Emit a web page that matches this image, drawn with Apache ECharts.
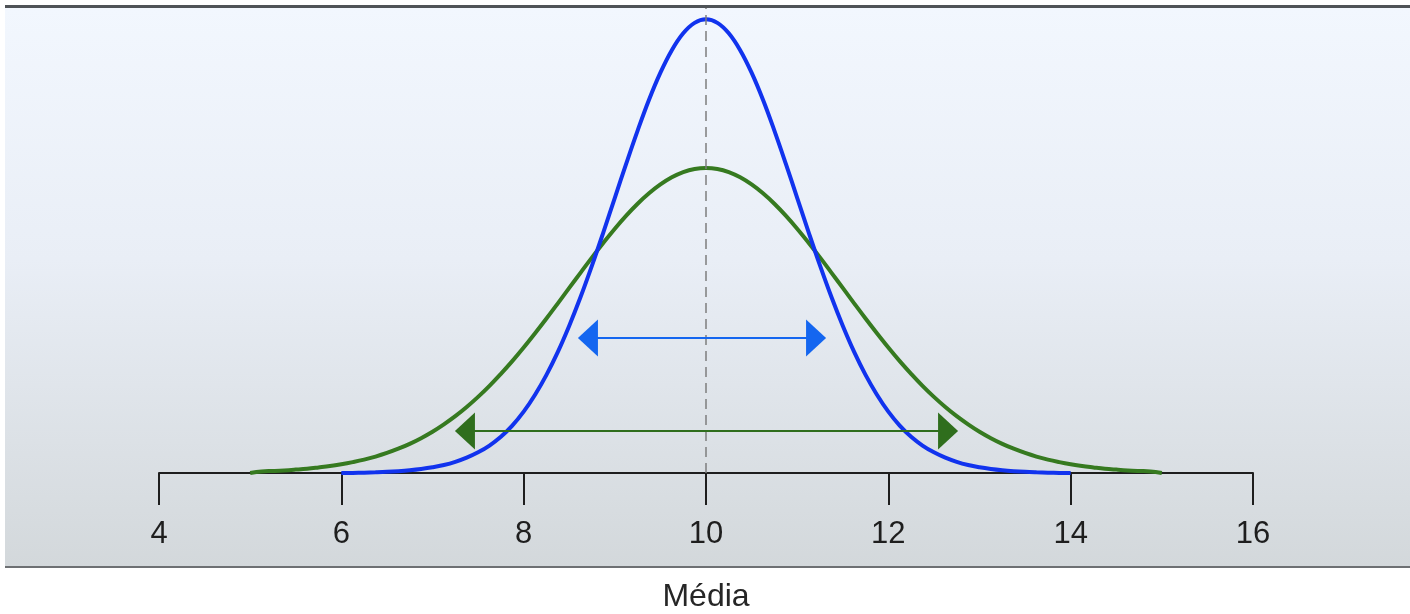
<!DOCTYPE html>
<html>
<head>
<meta charset="utf-8">
<script src="https://cdn.jsdelivr.net/npm/echarts@6/dist/echarts.min.js"></script>
<style>
html,body{margin:0;padding:0;background:#ffffff;}
#chart{width:1410px;height:614px;}
</style>
</head>
<body>
<div id="chart"></div>
<script>
// x-axis ticks
const xTicks = [4, 6, 8, 10, 12, 14, 16];
const axisTitle = 'Média';

// Narrow (blue) curve
const blueX = [6, 6.125, 6.25, 6.375, 6.5, 6.625, 6.75, 6.875, 7, 7.125, 7.25, 7.375, 7.5, 7.625, 7.75, 7.875,
               8, 8.125, 8.25, 8.375, 8.5, 8.625, 8.75, 8.875, 9, 9.125, 9.25, 9.375, 9.5, 9.625, 9.75, 9.875,
               10, 10.125, 10.25, 10.375, 10.5, 10.625, 10.75, 10.875, 11, 11.125, 11.25, 11.375, 11.5, 11.625, 11.75, 11.875,
               12, 12.125, 12.25, 12.375, 12.5, 12.625, 12.75, 12.875, 13, 13.125, 13.25, 13.375, 13.5, 13.625, 13.75, 13.875, 14];
const blueY = [0, 0.0001, 0.0003, 0.0006, 0.0010, 0.0016, 0.0024, 0.0035, 0.0050, 0.0070, 0.0098, 0.0135, 0.0182, 0.0242, 0.0319, 0.0418,
               0.0541, 0.0690, 0.0865, 0.1068, 0.1299, 0.1554, 0.1831, 0.2124, 0.2426, 0.2728, 0.3019, 0.3291, 0.3530, 0.3728, 0.3877, 0.3969,
               0.4000, 0.3969, 0.3877, 0.3728, 0.3530, 0.3291, 0.3019, 0.2728, 0.2426, 0.2124, 0.1831, 0.1554, 0.1299, 0.1068, 0.0865, 0.0690,
               0.0541, 0.0418, 0.0319, 0.0242, 0.0182, 0.0135, 0.0098, 0.0070, 0.0050, 0.0035, 0.0024, 0.0016, 0.0010, 0.0006, 0.0003, 0.0001, 0];

// Wide (green) curve
const greenX = [5, 5.125, 5.25, 5.375, 5.5, 5.625, 5.75, 5.875, 6, 6.125, 6.25, 6.375, 6.5, 6.625, 6.75, 6.875,
                7, 7.125, 7.25, 7.375, 7.5, 7.625, 7.75, 7.875, 8, 8.125, 8.25, 8.375, 8.5, 8.625, 8.75, 8.875,
                9, 9.125, 9.25, 9.375, 9.5, 9.625, 9.75, 9.875, 10, 10.125, 10.25, 10.375, 10.5, 10.625, 10.75, 10.875,
                11, 11.125, 11.25, 11.375, 11.5, 11.625, 11.75, 11.875, 12, 12.125, 12.25, 12.375, 12.5, 12.625, 12.75, 12.875,
                13, 13.125, 13.25, 13.375, 13.5, 13.625, 13.75, 13.875, 14, 14.125, 14.25, 14.375, 14.5, 14.625, 14.75, 14.875, 15];
const greenY = [0, 0.0014, 0.0018, 0.0023, 0.0030, 0.0038, 0.0049, 0.0061, 0.0077, 0.0096, 0.0118, 0.0145, 0.0177, 0.0214, 0.0257, 0.0307,
                0.0364, 0.0429, 0.0501, 0.0582, 0.0671, 0.0768, 0.0874, 0.0986, 0.1106, 0.1232, 0.1362, 0.1496, 0.1632, 0.1767, 0.1901, 0.2030,
                0.2154, 0.2269, 0.2374, 0.2466, 0.2544, 0.2607, 0.2653, 0.2681, 0.2690, 0.2681, 0.2653, 0.2607, 0.2544, 0.2466, 0.2374, 0.2269,
                0.2154, 0.2030, 0.1901, 0.1767, 0.1632, 0.1496, 0.1362, 0.1232, 0.1106, 0.0986, 0.0874, 0.0768, 0.0671, 0.0582, 0.0501, 0.0429,
                0.0364, 0.0307, 0.0257, 0.0214, 0.0177, 0.0145, 0.0118, 0.0096, 0.0077, 0.0061, 0.0049, 0.0038, 0.0030, 0.0023, 0.0018, 0.0014, 0];

// Double-headed arrows: [from, to, height]
const blueArrow = [8.595, 11.317, 0.119];
const greenArrow = [7.246, 12.765, 0.037];
const meanLine = 10;

const BLUE = '#1133ee';
const BLUE_ARROW = '#1466f0';
const GREEN = '#367a20';
const GREEN_ARROW = '#2f6e1d';

const chart = echarts.init(document.getElementById('chart'), null, {renderer: 'canvas'});

function arrowRender(color) {
  return function (params, api) {
    const p1 = api.coord([api.value(0), api.value(2)]);
    const p2 = api.coord([api.value(1), api.value(2)]);
    const y = p1[1];
    const w = 20, h = 18.5;
    return {
      type: 'group',
      children: [
        {type: 'line', shape: {x1: p1[0] + w - 2, y1: y, x2: p2[0] - w + 2, y2: y},
         style: {stroke: color, lineWidth: 2}},
        {type: 'polygon', shape: {points: [[p1[0], y], [p1[0] + w, y - h], [p1[0] + w, y + h]]},
         style: {fill: color}},
        {type: 'polygon', shape: {points: [[p2[0], y], [p2[0] - w, y - h], [p2[0] - w, y + h]]},
         style: {fill: color}}
      ]
    };
  };
}

const option = {
  animation: false,
  graphic: [
    {type: 'rect', z: -10, silent: true,
     shape: {x: 5, y: 7, width: 1405, height: 560},
     style: {fill: new echarts.graphic.LinearGradient(0, 0, 0, 1, [
       {offset: 0, color: '#f2f7fe'},
       {offset: 0.45, color: '#e9eef6'},
       {offset: 1, color: '#d3d8db'}
     ])}},
    {type: 'line', z: -5, silent: true, shape: {x1: 5, y1: 6.5, x2: 1410, y2: 6.5},
     style: {stroke: '#4f5357', lineWidth: 3}},
    {type: 'line', z: -5, silent: true, shape: {x1: 5, y1: 567, x2: 1410, y2: 567},
     style: {stroke: '#6d7073', lineWidth: 2}}
  ],
  grid: {left: 159, right: 157, top: 8, bottom: 141, containLabel: false, outerBoundsMode: 'none'},
  xAxis: {
    type: 'value', min: xTicks[0], max: xTicks[xTicks.length - 1], interval: 2,
    axisLine: {lineStyle: {color: '#1e1e1e', width: 2}},
    axisTick: {length: 32, lineStyle: {color: '#1e1e1e', width: 2}},
    axisLabel: {fontSize: 31, color: '#1e1e1e', margin: 46, fontFamily: 'Liberation Sans, Arial, sans-serif'},
    splitLine: {show: false},
    name: axisTitle, nameLocation: 'middle', nameGap: 108,
    nameTextStyle: {fontSize: 32, color: '#262626', fontFamily: 'Liberation Sans, Arial, sans-serif'}
  },
  yAxis: {type: 'value', min: 0, max: 0.41, show: false},
  series: [
    {
      type: 'line', name: 'green', symbol: 'none', smooth: 0.4, z: 3,
      data: greenX.map((x, i) => [x, greenY[i]]),
      lineStyle: {color: GREEN, width: 4}
    },
    {
      type: 'line', name: 'blue', symbol: 'none', smooth: 0.4, z: 4,
      data: blueX.map((x, i) => [x, blueY[i]]),
      lineStyle: {color: BLUE, width: 4},
      markLine: {
        silent: true, symbol: 'none', label: {show: false},
        lineStyle: {type: [10, 6], color: '#7d7d7d', width: 1.5},
        data: [{xAxis: meanLine}]
      }
    },
    {
      type: 'custom', name: 'blueArrow', z: 5,
      renderItem: arrowRender(BLUE_ARROW),
      encode: {x: [0, 1], y: 2},
      data: [blueArrow]
    },
    {
      type: 'custom', name: 'greenArrow', z: 5,
      renderItem: arrowRender(GREEN_ARROW),
      encode: {x: [0, 1], y: 2},
      data: [greenArrow]
    }
  ]
};
chart.setOption(option);
</script>
</body>
</html>
